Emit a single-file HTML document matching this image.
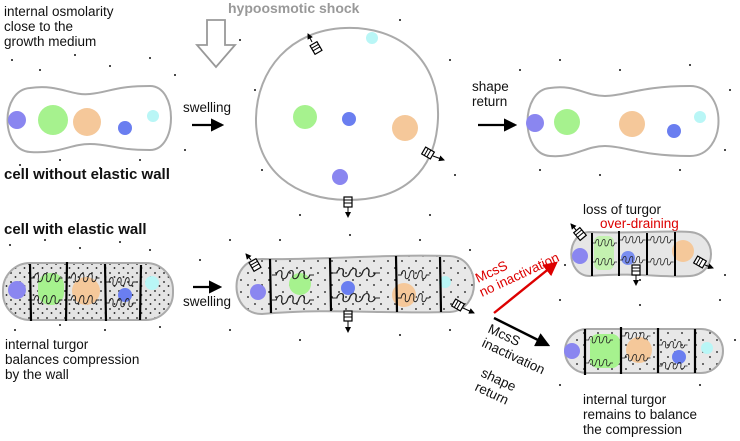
<!DOCTYPE html>
<html><head><meta charset="utf-8"><style>
body{margin:0;background:#fff;width:740px;height:441px;overflow:hidden}
svg{display:block}
text{font-family:"Liberation Sans",sans-serif;font-size:13.5px;fill:#111}
.b{font-weight:bold;font-size:15px}
</style></head><body>
<svg width="740" height="441" viewBox="0 0 740 441" xmlns="http://www.w3.org/2000/svg">
<defs>
<pattern id="st" width="9" height="9" patternUnits="userSpaceOnUse">
<rect width="9" height="9" fill="#e4e4e4"/><circle cx="2" cy="3" r="0.9" fill="#111"/><circle cx="6.5" cy="7" r="0.9" fill="#111"/>
</pattern>
<pattern id="st2" width="14" height="12" patternUnits="userSpaceOnUse">
<rect width="14" height="12" fill="#e8e8e8"/><circle cx="3" cy="4" r="0.9" fill="#111"/><circle cx="10" cy="9" r="0.9" fill="#111"/>
</pattern>
<marker id="ah" markerWidth="6" markerHeight="6" refX="5" refY="3" orient="auto"><path d="M0,0L6,3L0,6z" fill="#000"/></marker>
<marker id="ahr" markerWidth="6" markerHeight="6" refX="5" refY="3" orient="auto"><path d="M0,0L6,3L0,6z" fill="#d00"/></marker>
<g id="spr"><path d="M0,0 h3 c1,-6 5,-6 4,0 c-1,5 3,5 4,0 c1,-6 5,-6 4,0 c-1,5 3,5 4,0 c1,-6 5,-6 4,0 c-1,5 3,5 4,0 h3" fill="none" stroke="#222" stroke-width="0.9"/></g>
<g id="ch"><rect x="-4" y="-5" width="8" height="10" fill="#fff" stroke="#000" stroke-width="1.2"/><line x1="-4" y1="-2" x2="4" y2="-2" stroke="#000"/><line x1="-4" y1="1" x2="4" y2="1" stroke="#000"/></g>
</defs>

<g fill="#111">
<circle cx="12" cy="60" r="1"/><circle cx="40" cy="70" r="1"/><circle cx="75" cy="55" r="1"/><circle cx="110" cy="66" r="1"/><circle cx="150" cy="58" r="1"/><circle cx="175" cy="75" r="1"/><circle cx="20" cy="165" r="1"/><circle cx="60" cy="160" r="1"/><circle cx="100" cy="168" r="1"/><circle cx="140" cy="160" r="1"/><circle cx="185" cy="150" r="1"/><circle cx="240" cy="40" r="1"/><circle cx="255" cy="90" r="1"/><circle cx="262" cy="170" r="1"/><circle cx="300" cy="215" r="1"/><circle cx="400" cy="20" r="1"/><circle cx="450" cy="60" r="1"/><circle cx="455" cy="175" r="1"/><circle cx="430" cy="215" r="1"/><circle cx="520" cy="70" r="1"/><circle cx="560" cy="60" r="1"/><circle cx="620" cy="70" r="1"/><circle cx="690" cy="65" r="1"/><circle cx="730" cy="90" r="1"/><circle cx="540" cy="170" r="1"/><circle cx="600" cy="175" r="1"/><circle cx="680" cy="170" r="1"/><circle cx="725" cy="150" r="1"/>
<circle cx="300" cy="125" r="1"/><circle cx="330" cy="90" r="1"/><circle cx="380" cy="150" r="1"/><circle cx="290" cy="160" r="1"/><circle cx="370" cy="80" r="1"/><circle cx="410" cy="90" r="1"/><circle cx="280" cy="70" r="1"/><circle cx="320" cy="180" r="1"/><circle cx="360" cy="60" r="1"/><circle cx="400" cy="170" r="1"/><circle cx="60" cy="100" r="1"/><circle cx="110" cy="105" r="1"/><circle cx="140" cy="130" r="1"/><circle cx="590" cy="105" r="1"/><circle cx="660" cy="105" r="1"/><circle cx="700" cy="140" r="1"/>
<circle cx="10" cy="245" r="1"/><circle cx="45" cy="240" r="1"/><circle cx="80" cy="248" r="1"/><circle cx="120" cy="242" r="1"/><circle cx="150" cy="250" r="1"/><circle cx="15" cy="330" r="1"/><circle cx="60" cy="325" r="1"/><circle cx="105" cy="330" r="1"/><circle cx="160" cy="327" r="1"/><circle cx="200" cy="260" r="1"/><circle cx="230" cy="240" r="1"/><circle cx="280" cy="240" r="1"/><circle cx="350" cy="235" r="1"/><circle cx="420" cy="240" r="1"/><circle cx="470" cy="250" r="1"/><circle cx="230" cy="330" r="1"/><circle cx="300" cy="340" r="1"/><circle cx="400" cy="335" r="1"/><circle cx="450" cy="330" r="1"/><circle cx="560" cy="300" r="1"/><circle cx="640" cy="305" r="1"/><circle cx="720" cy="300" r="1"/><circle cx="735" cy="340" r="1"/><circle cx="560" cy="385" r="1"/><circle cx="700" cy="385" r="1"/><circle cx="565" cy="265" r="1"/><circle cx="725" cy="275" r="1"/><circle cx="600" cy="245" r="1"/><circle cx="640" cy="280" r="1"/>
</g>

<text x="228" y="13" style="font-weight:bold;fill:#999;font-size:14px">hypoosmotic shock</text>
<path d="M207,20 h18 v25 h10 l-19,22 l-19,-22 h10 z" fill="#fff" stroke="#999" stroke-width="1.8"/>
<text x="4" y="16">internal osmolarity</text>
<text x="4" y="31">close to the</text>
<text x="4" y="46">growth medium</text>

<path d="M30,88 C60,84 70,96 90,94 C110,92 115,86 150,86 C178,86 178,150 150,150 C115,150 110,144 90,144 C70,144 60,154 30,152 C0,150 0,90 30,88 Z" fill="#fff" stroke="#aaa" stroke-width="2"/>
<circle cx="17" cy="120" r="9" fill="#8a86f0"/><circle cx="53" cy="120" r="15" fill="#a6f28e"/><circle cx="87" cy="122" r="14" fill="#f5c89a"/><circle cx="125" cy="128" r="7" fill="#6a7ef0"/><circle cx="153" cy="116" r="6" fill="#b9f6f6"/>
<text x="183" y="112">swelling</text>
<line x1="192" y1="125" x2="222" y2="125" stroke="#000" stroke-width="2.2" marker-end="url(#ah)"/>

<path d="M345,28 C400,26 440,60 438,118 C436,170 405,200 348,200 C295,200 255,170 256,118 C257,70 290,30 345,28 Z" fill="#fff" stroke="#aaa" stroke-width="2"/>
<circle cx="305" cy="117" r="12" fill="#a6f28e"/><circle cx="349" cy="119" r="7" fill="#6a7ef0"/><circle cx="405" cy="128" r="13" fill="#f5c89a"/><circle cx="340" cy="177" r="8" fill="#8a86f0"/><circle cx="372" cy="38" r="6" fill="#b9f6f6"/>
<use href="#ch" transform="translate(316,48) rotate(-30)"/><line x1="312" y1="42" x2="308" y2="34" stroke="#000" marker-end="url(#ah)"/>
<use href="#ch" transform="translate(428,153) rotate(-60)"/><line x1="433" y1="156" x2="444" y2="160" stroke="#000" marker-end="url(#ah)"/>
<use href="#ch" transform="translate(348,202)"/><line x1="348" y1="207" x2="348" y2="217" stroke="#000" marker-end="url(#ah)"/>

<text x="472" y="91">shape</text><text x="472" y="106">return</text>
<line x1="478" y1="125" x2="515" y2="125" stroke="#000" stroke-width="2.2" marker-end="url(#ah)"/>

<path d="M550,88 C575,84 585,96 605,96 C625,96 640,86 690,86 C728,86 728,156 690,156 C640,156 625,146 605,146 C585,146 575,158 550,156 C520,154 520,90 550,88 Z" fill="#fff" stroke="#aaa" stroke-width="2"/>
<circle cx="535" cy="123" r="9" fill="#8a86f0"/><circle cx="567" cy="122" r="13" fill="#a6f28e"/><circle cx="632" cy="124" r="13" fill="#f5c89a"/><circle cx="674" cy="131" r="7" fill="#6a7ef0"/><circle cx="700" cy="117" r="6" fill="#b9f6f6"/>

<text class="b" x="4" y="179">cell without elastic wall</text>
<text class="b" x="4" y="234">cell with elastic wall</text>

<rect x="3" y="263" width="170" height="57" rx="27" fill="url(#st)" stroke="#aaa" stroke-width="2"/>
<circle cx="17" cy="290" r="9" fill="#8a86f0"/><rect x="38" y="273" width="26" height="32" rx="12" fill="#a6f28e"/><circle cx="86" cy="291" r="14" fill="#f5c89a"/><circle cx="125" cy="295" r="7" fill="#6a7ef0"/><circle cx="152" cy="283" r="7" fill="#b9f6f6"/>
<use href="#spr" transform="translate(31,278) scale(1.05,1)"/><use href="#spr" transform="translate(31,300) scale(1.05,1)"/>
<use href="#spr" transform="translate(68,278) scale(1.05,1)"/><use href="#spr" transform="translate(68,300) scale(1.05,1)"/>
<use href="#spr" transform="translate(106,282)"/><use href="#spr" transform="translate(106,303)"/>
<g stroke="#000" stroke-width="2.2"><line x1="30" y1="264" x2="31" y2="321"/><line x1="67" y1="262" x2="66" y2="321"/><line x1="105" y1="264" x2="106" y2="321"/><line x1="141" y1="265" x2="140" y2="320"/></g>
<text x="5" y="349">internal turgor</text><text x="5" y="364">balances compression</text><text x="5" y="379">by the wall</text>
<text x="183" y="306">swelling</text>
<line x1="193" y1="287" x2="220" y2="287" stroke="#000" stroke-width="2.2" marker-end="url(#ah)"/>

<path d="M262,259 C330,260 380,254 450,256 C482,258 482,310 450,312 C380,314 330,308 262,314 C228,314 228,259 262,259 Z" fill="url(#st2)" stroke="#aaa" stroke-width="2"/>
<circle cx="258" cy="292" r="8" fill="#8a86f0"/><circle cx="300" cy="284" r="11" fill="#a6f28e"/><circle cx="348" cy="288" r="7" fill="#6a7ef0"/><circle cx="404" cy="295" r="12" fill="#f5c89a"/><circle cx="445" cy="282" r="6" fill="#b9f6f6"/>
<use href="#spr" transform="translate(272,275) scale(1.4,1)"/><use href="#spr" transform="translate(272,300) scale(1.4,1)"/>
<use href="#spr" transform="translate(332,273) scale(1.6,1)"/><use href="#spr" transform="translate(332,298) scale(1.6,1)"/>
<use href="#spr" transform="translate(398,275) scale(1.05,1)"/><use href="#spr" transform="translate(398,298) scale(1.05,1)"/>
<g stroke="#000" stroke-width="2.2"><line x1="270" y1="259" x2="271" y2="313"/><line x1="330" y1="258" x2="331" y2="311"/><line x1="396" y1="256" x2="397" y2="312"/><line x1="440" y1="257" x2="441" y2="312"/></g>
<use href="#ch" transform="translate(255,265) rotate(-30)"/><line x1="251" y1="260" x2="246" y2="254" stroke="#000" marker-end="url(#ah)"/>
<use href="#ch" transform="translate(458,305) rotate(-60)"/><line x1="463" y1="308" x2="474" y2="313" stroke="#000" marker-end="url(#ah)"/>
<use href="#ch" transform="translate(348,316)"/><line x1="348" y1="321" x2="348" y2="332" stroke="#000" marker-end="url(#ah)"/>

<text x="478" y="283" transform="rotate(-25 478 283)" style="fill:#d00">McsS</text>
<text x="482" y="297" transform="rotate(-25 482 297)" style="fill:#d00">no inactivation</text>
<line x1="494" y1="313" x2="556" y2="263" stroke="#d00" stroke-width="2.4" marker-end="url(#ahr)"/>
<line x1="494" y1="318" x2="548" y2="345" stroke="#000" stroke-width="2.4" marker-end="url(#ah)"/>
<text x="487" y="332" transform="rotate(25 487 332)">McsS</text>
<text x="481" y="346" transform="rotate(25 481 346)">inactivation</text>
<text x="480" y="376" transform="rotate(25 480 376)">shape</text>
<text x="474" y="390" transform="rotate(25 474 390)">return</text>

<text x="583" y="214">loss of turgor</text>
<text x="600" y="228" style="fill:#d00">over-draining</text>
<path d="M590,232 C640,234 660,230 690,232 C718,234 718,274 690,276 C660,278 640,272 590,276 C565,276 565,232 590,232 Z" fill="#e6e6e6" stroke="#aaa" stroke-width="2"/>
<circle cx="580" cy="256" r="8" fill="#8a86f0"/><rect x="594" y="236" width="20" height="34" rx="6" fill="#c4f2b0"/><circle cx="628" cy="258" r="7" fill="#7a8ef0"/><circle cx="683" cy="251" r="11" fill="#f5c89a"/>
<use href="#spr" transform="translate(593,243) scale(0.8,0.8)"/><use href="#spr" transform="translate(593,262) scale(0.8,0.8)"/>
<use href="#spr" transform="translate(620,240) scale(0.85,0.8)"/><use href="#spr" transform="translate(620,260) scale(0.85,0.8)"/>
<use href="#spr" transform="translate(648,240) scale(0.85,0.8)"/><use href="#spr" transform="translate(648,262) scale(0.85,0.8)"/>
<g stroke="#000" stroke-width="2"><line x1="592" y1="233" x2="592" y2="276"/><line x1="619" y1="231" x2="619" y2="276"/><line x1="647" y1="233" x2="647" y2="275"/><line x1="675" y1="232" x2="675" y2="276"/></g>
<use href="#ch" transform="translate(580,234) rotate(-40)"/><line x1="576" y1="230" x2="571" y2="224" stroke="#000" marker-end="url(#ah)"/>
<use href="#ch" transform="translate(700,262) rotate(-60)"/><line x1="705" y1="265" x2="713" y2="268" stroke="#000" marker-end="url(#ah)"/>
<use href="#ch" transform="translate(636,270)"/><line x1="636" y1="275" x2="636" y2="285" stroke="#000" marker-end="url(#ah)"/>

<rect x="565" y="329" width="158" height="44" rx="22" fill="url(#st2)" stroke="#aaa" stroke-width="2"/>
<circle cx="572" cy="351" r="8" fill="#8a86f0"/><rect x="590" y="334" width="30" height="34" rx="8" fill="#a6f28e"/><circle cx="639" cy="350" r="13" fill="#f5c89a"/><circle cx="679" cy="357" r="7" fill="#6a7ef0"/><circle cx="707" cy="348" r="6" fill="#b9f6f6"/>
<use href="#spr" transform="translate(586,340) scale(0.9,0.8)"/><use href="#spr" transform="translate(586,363) scale(0.9,0.8)"/>
<use href="#spr" transform="translate(622,336) scale(0.95,0.8)"/><use href="#spr" transform="translate(622,358) scale(0.95,0.8)"/>
<use href="#spr" transform="translate(659,345) scale(0.95,0.8)"/><use href="#spr" transform="translate(659,366) scale(0.95,0.8)"/>
<g stroke="#000" stroke-width="2.2"><line x1="585" y1="329" x2="585" y2="375"/><line x1="621" y1="327" x2="621" y2="374"/><line x1="658" y1="328" x2="658" y2="373"/><line x1="695" y1="329" x2="695" y2="373"/></g>
<text x="583" y="404">internal turgor</text><text x="583" y="419">remains to balance</text><text x="583" y="434">the compression</text>
</svg>
</body></html>
